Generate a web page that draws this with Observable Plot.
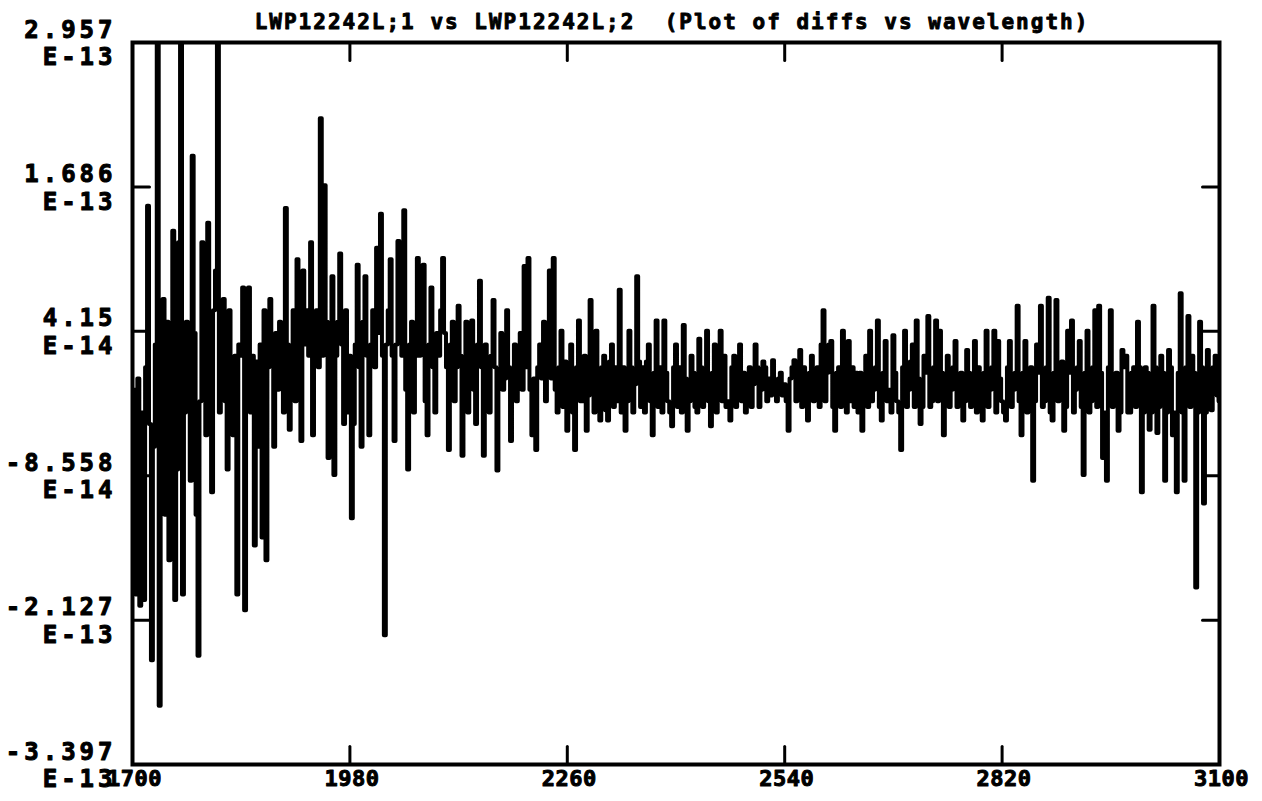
<!DOCTYPE html>
<html>
<head>
<meta charset="utf-8">
<script src="https://cdn.jsdelivr.net/npm/d3@7"></script>
<script src="https://cdn.jsdelivr.net/npm/@observablehq/plot@0.6"></script>
<style>
  html, body { margin: 0; padding: 0; background: #fff; }
  #chart svg text { letter-spacing: 4px; }
  #chart svg g.xlab text { letter-spacing: 0.5px; }
  #chart svg g.title text { letter-spacing: 2px; }
</style>
</head>
<body>
<div id="chart"></div>
<script>
const titleText = "LWP12242L;1 vs LWP12242L;2  (Plot of diffs vs wavelength)";

// wavelength grid (Angstrom)
const waveStart = 1700;
const waveStep = 2.5;

// differences, in units of 1E-13
const diffs = [
  -1.8, -0.1, -1.9, 0.0, -2.0, -0.3, -1.95, 0.1, 1.52, -0.4,
  -2.48, -0.6, 0.3, 2.95, -2.88, -0.5, 0.7, -1.2, 0.5, -1.6,
  0.2, 1.3, -1.95, -0.8, 1.2, 2.95, -1.9, -0.3, 0.5, 0.2,
  -0.9, 1.96, 0.4, -1.2, -2.44, -0.2, 1.2, 0.3, -0.5, 1.37,
  0.1, -1.0, 0.6, 0.95, 2.95, -0.3, 0.3, 0.7, -0.2, -0.8,
  0.6, 0.1, -0.5, 0.2, -1.9, 0.3, 0.2, 0.8, -2.04, 0.1,
  0.8, -0.3, 0.2, -1.47, 0.15, -0.6, 0.3, -1.4, 0.6, -1.6,
  0.1, 0.7, 0.2, -0.6, 0.4, -0.1, 0.5, 0.3, -0.3, 1.5,
  0.3, -0.45, 0.2, 0.6, -0.2, 1.05, 0.4, -0.55, 0.95, 0.3,
  0.6, 0.2, 1.2, -0.5, 0.4, 0.6, 0.1, 2.29, 0.2, 1.7,
  0.5, -0.7, 0.3, 0.9, -0.85, 0.2, 0.5, 1.1, 0.3, -0.4,
  0.6, -0.3, 0.2, -1.23, -0.4, 0.3, 1.0, 0.1, -0.6, 0.5,
  0.9, 0.2, -0.5, 0.3, 0.6, 0.1, 1.15, 0.4, 1.45, 0.2,
  -2.26, 0.3, 0.6, 1.05, 0.2, -0.55, 0.3, 1.21, 0.5, 0.2,
  1.48, -0.1, -0.8, 0.3, 0.5, -0.3, 0.2, 1.06, 0.2, 0.5,
  1.0, -0.2, -0.5, 0.3, 0.8, 0.1, -0.3, 0.4, 0.2, 0.6,
  1.06, 0.4, 0.1, -0.63, 0.3, 0.5, -0.2, 0.1, 0.64, 0.2,
  -0.68, 0.1, 0.5, -0.3, 0.2, 0.51, -0.1, -0.4, 0.3, 0.86,
  0.1, -0.68, 0.3, 0.0, -0.3, 0.2, 0.69, 0.1, -0.81, 0.0,
  0.4, -0.1, 0.0, 0.6, 0.1, -0.55, 0.0, 0.3, -0.2, 0.1,
  0.4, -0.1, 0.99, 0.1, 1.06, -0.1, -0.5, 0.0, -0.63, 0.1,
  0.3, 0.0, 0.5, -0.2, 0.1, 0.95, 0.0, 1.06, -0.1, -0.3,
  0.1, 0.42, -0.25, 0.15, -0.46, 0.05, 0.3, -0.3, -0.63, 0.1,
  0.51, -0.2, -0.2, 0.2, -0.46, -0.15, 0.69, 0.05, -0.3, 0.42,
  -0.25, -0.37, 0.1, 0.2, -0.28, -0.37, 0.15, 0.3, -0.25, 0.1,
  -0.2, 0.78, -0.3, 0.1, -0.46, -0.2, 0.42, 0.1, -0.3, -0.05,
  0.9, 0.15, -0.25, 0.1, -0.3, 0.15, 0.3, -0.2, -0.5, 0.05,
  0.51, -0.25, 0.1, -0.3, 0.51, 0.05, -0.2, -0.3, -0.42, 0.1,
  0.3, -0.25, 0.1, -0.3, 0.47, 0.0, -0.46, -0.2, 0.2, 0.05,
  -0.25, -0.3, 0.35, 0.1, -0.25, -0.15, 0.42, -0.2, -0.42, 0.05,
  0.3, -0.3, 0.05, 0.42, -0.2, 0.2, -0.25, -0.2, -0.37, 0.1,
  0.2, -0.25, -0.05, 0.3, -0.2, 0.05, -0.3, -0.15, 0.1, -0.25,
  -0.05, 0.3, 0.1, -0.25, -0.1, 0.15, 0.1, -0.2, 0.0, -0.15,
  0.16, -0.05, -0.2, 0.0, 0.05, -0.15, -0.05, -0.2, -0.46, 0.0,
  0.1, 0.16, -0.2, -0.15, 0.25, -0.25, 0.1, -0.1, -0.37, 0.05,
  0.2, -0.2, 0.0, 0.1, -0.25, 0.3, 0.6, -0.2, 0.05, 0.3,
  0.33, -0.25, -0.46, 0.05, 0.1, -0.25, 0.42, -0.05, -0.3, 0.33,
  -0.2, 0.1, -0.25, 0.05, -0.3, 0.05, -0.46, -0.15, 0.2, -0.25,
  0.42, -0.2, -0.1, 0.1, 0.51, -0.25, -0.37, 0.05, 0.33, -0.2,
  -0.1, -0.3, 0.38, 0.05, -0.2, -0.3, -0.63, 0.1, 0.42, -0.25,
  -0.1, 0.15, 0.3, -0.25, 0.51, 0.0, -0.4, -0.25, 0.2, 0.05,
  0.55, -0.25, -0.2, 0.1, 0.51, -0.2, 0.42, 0.05, -0.5, -0.2,
  0.2, -0.25, -0.1, 0.1, 0.33, -0.25, -0.2, 0.05, -0.37, -0.2,
  0.25, 0.05, -0.25, -0.15, 0.33, -0.3, 0.1, -0.2, -0.37, 0.05,
  0.42, -0.25, -0.1, 0.1, 0.42, -0.3, 0.33, 0.0, -0.2, -0.3,
  -0.37, 0.1, 0.33, -0.25, -0.1, 0.05, 0.64, -0.2, -0.5, 0.05,
  0.33, -0.3, -0.2, 0.1, -0.9, -0.2, 0.3, 0.05, 0.64, -0.25,
  -0.2, 0.1, 0.71, -0.3, -0.37, 0.05, 0.69, -0.2, -0.1, 0.15,
  -0.46, -0.25, 0.42, 0.05, 0.51, -0.3, -0.1, 0.1, 0.33, -0.25,
  -0.85, 0.05, 0.42, -0.3, -0.2, 0.1, 0.6, -0.25, 0.64, 0.05,
  -0.7, -0.3, -0.9, 0.1, 0.6, -0.25, -0.1, 0.05, -0.46, -0.3,
  0.25, 0.1, 0.2, -0.3, -0.3, 0.05, 0.1, -0.25, 0.5, 0.1,
  -1.0, -0.3, 0.1, 0.05, -0.45, -0.3, 0.64, 0.1, -0.48, -0.25,
  0.2, 0.05, -0.9, -0.3, 0.25, 0.1, -0.5, -0.3, -1.0, 0.05,
  0.75, -0.3, -0.9, 0.1, 0.55, -0.25, 0.2, 0.05, -1.84, -0.3,
  0.5, 0.1, -1.1, -0.3, 0.25, 0.05, -0.28, 0.1, 0.2, -0.15,
  -0.2
];

// axes
const xDomain = [1700, 3100];
const xTicks = [1700, 1980, 2260, 2540, 2820, 3100];
const xTickLabels = ["1700", "1980", "2260", "2540", "2820", "3100"];
const yDomain = [-3.397, 2.957];
const yTicks = [2.957, 1.686, 0.415, -0.8558, -2.127, -3.397];
const yTickLabels = ["2.957\nE-13", "1.686\nE-13", "4.15\nE-14", "-8.558\nE-14", "-2.127\nE-13", "-3.397\nE-13"];

const data = diffs.map((d, i) => ({w: waveStart + i * waveStep, d}));
const xLabel = new Map(xTicks.map((t, i) => [t, xTickLabels[i]]));
const yLabel = new Map(yTicks.map((t, i) => [t, yTickLabels[i]]));

const tickShape = {draw(context, l) { context.moveTo(0, 0); context.lineTo(0, -l); }};
const font = "DejaVu Sans Mono, monospace";

const chart = Plot.plot({
  width: 1262,
  height: 801,
  marginLeft: 132,
  marginRight: 43,
  marginTop: 42,
  marginBottom: 37,
  style: {fontFamily: font, fontWeight: "bold", fontSize: "24px", color: "#000", background: "#fff"},
  x: {domain: xDomain, axis: null},
  y: {domain: yDomain, axis: null},
  marks: [
    Plot.line(data, {x: "w", y: "d", curve: "step", stroke: "#000", strokeWidth: 4, clip: true}),
    // inward ticks
    Plot.vector(xTicks, {x: d => d, frameAnchor: "bottom", length: 18, rotate: 0, anchor: "start", shape: tickShape, stroke: "#000", strokeWidth: 3}),
    Plot.vector(xTicks, {x: d => d, frameAnchor: "top", length: 18, rotate: 180, anchor: "start", shape: tickShape, stroke: "#000", strokeWidth: 3}),
    Plot.vector(yTicks, {y: d => d, frameAnchor: "left", length: 17, rotate: 90, anchor: "start", shape: tickShape, stroke: "#000", strokeWidth: 3}),
    Plot.vector(yTicks, {y: d => d, frameAnchor: "right", length: 17, rotate: -90, anchor: "start", shape: tickShape, stroke: "#000", strokeWidth: 3}),
    Plot.frame({stroke: "#000", strokeWidth: 4}),
    // tick labels
    Plot.text(yTicks, {y: d => d, frameAnchor: "left", text: d => yLabel.get(d), textAnchor: "end", dx: -16, lineHeight: 1.15, fontSize: 24, fontWeight: "bold", fill: "#000", stroke: "#000", strokeWidth: 1}),
    Plot.text(xTicks, {x: d => d, frameAnchor: "bottom", text: d => xLabel.get(d), lineAnchor: "top", dy: 6, dx: 2, fontSize: 22, fontWeight: "bold", fill: "#000", stroke: "#000", strokeWidth: 1, className: "xlab"}),
    // title
    Plot.text([titleText], {frameAnchor: "top", text: d => d, dy: -28, dx: -4, fontSize: 21, fontWeight: "bold", fill: "#000", stroke: "#000", strokeWidth: 0.9, className: "title"})
  ]
});
document.getElementById("chart").appendChild(chart);
</script>
</body>
</html>
